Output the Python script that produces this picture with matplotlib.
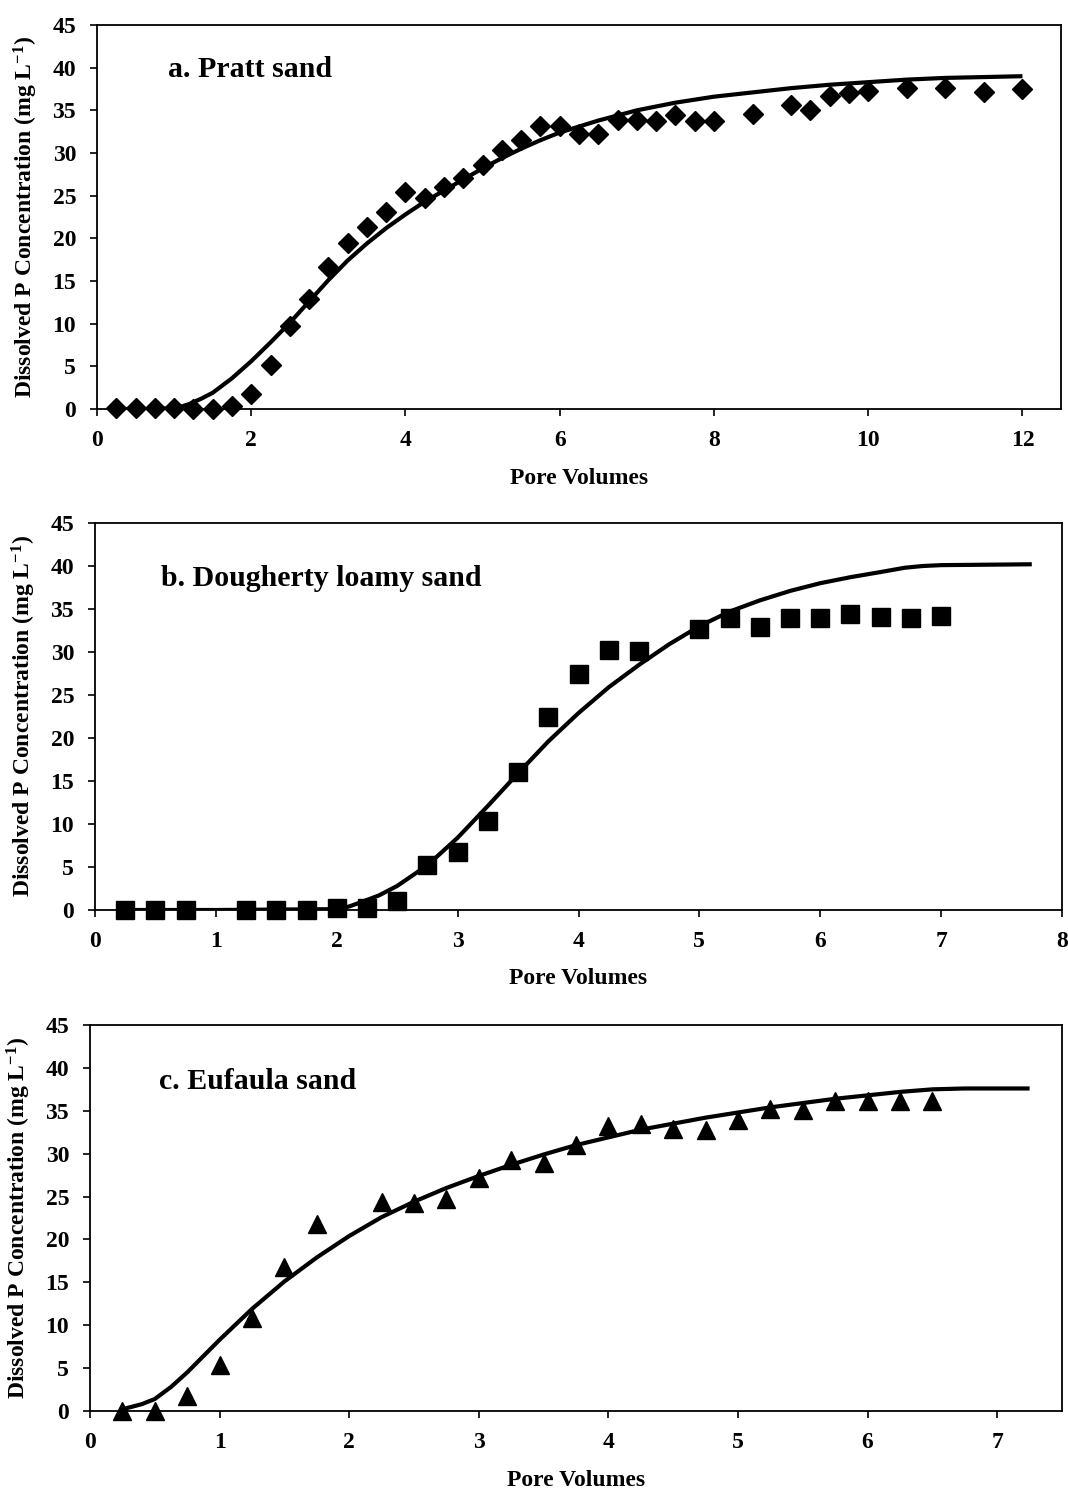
import matplotlib
matplotlib.use("Agg")
import matplotlib.pyplot as plt

plt.rcParams['font.family'] = ['Liberation Serif', 'DejaVu Serif']
plt.rcParams['font.weight'] = 'bold'
plt.rcParams['mathtext.fontset'] = 'custom'
plt.rcParams['mathtext.rm'] = 'Liberation Serif:bold'
plt.rcParams['mathtext.it'] = 'Liberation Serif:bold'
plt.rcParams['mathtext.bf'] = 'Liberation Serif:bold'

# ---- Panel a: Pratt sand ----
a_obs_x = [0.25, 0.5, 0.75, 1.0, 1.25, 1.5, 1.75, 2.0, 2.25, 2.5, 2.75, 3.0, 3.25, 3.5, 3.75,
           4.0, 4.25, 4.5, 4.75, 5.0, 5.25, 5.5, 5.75, 6.0, 6.25, 6.5, 6.75, 7.0, 7.25, 7.5,
           7.75, 8.0, 8.5, 9.0, 9.25, 9.5, 9.75, 10.0, 10.5, 11.0, 11.5, 12.0]
a_obs_y = [0.1, 0.1, 0.1, 0.1, 0.0, 0.0, 0.4, 1.8, 5.1, 9.7, 12.9, 16.6, 19.5, 21.3, 23.1,
           25.4, 24.7, 26.0, 27.1, 28.6, 30.4, 31.5, 33.2, 33.2, 32.2, 32.2, 33.9, 33.9, 33.8, 34.4,
           33.8, 33.7, 34.6, 35.6, 35.0, 36.7, 37.0, 37.3, 37.6, 37.6, 37.2, 37.5]
a_fit_x = [0.25, 0.75, 1.0, 1.1, 1.2, 1.35, 1.5, 1.75, 2.0, 2.25, 2.5, 2.75, 3.0, 3.25, 3.5,
           3.75, 4.0, 4.25, 4.5, 4.75, 5.0, 5.25, 5.5, 5.75, 6.0, 6.5, 7.0, 7.5, 8.0, 8.5, 9.0,
           9.5, 10.0, 10.5, 11.0, 11.5, 12.0]
a_fit_y = [0.0, 0.0, 0.1, 0.3, 0.6, 1.2, 1.9, 3.6, 5.6, 7.8, 10.1, 12.6, 15.1, 17.4, 19.4,
           21.2, 22.8, 24.3, 25.6, 26.9, 28.2, 29.4, 30.5, 31.5, 32.4, 33.8, 35.0, 35.9, 36.6,
           37.1, 37.6, 38.0, 38.3, 38.6, 38.8, 38.9, 39.0]

# ---- Panel b: Dougherty loamy sand ----
b_obs_x = [0.25, 0.5, 0.75, 1.25, 1.5, 1.75, 2.0, 2.25, 2.5, 2.75, 3.0, 3.25, 3.5, 3.75,
           4.0, 4.25, 4.5, 5.0, 5.25, 5.5, 5.75, 6.0, 6.25, 6.5, 6.75, 7.0]
b_obs_y = [0.0, 0.0, 0.0, 0.0, 0.0, 0.0, 0.2, 0.2, 1.0, 5.2, 6.7, 10.3, 16.1, 22.4,
           27.4, 30.2, 30.1, 32.7, 34.0, 32.9, 33.9, 34.0, 34.4, 34.1, 34.0, 34.2]
b_fit_x = [0.25, 1.0, 2.0, 2.1, 2.2, 2.35, 2.5, 2.75, 3.0, 3.25, 3.5, 3.75, 4.0, 4.25, 4.5,
           4.75, 5.0, 5.25, 5.5, 5.75, 6.0, 6.25, 6.5, 6.7, 6.85, 7.0, 7.75]
b_fit_y = [0.0, 0.0, 0.1, 0.4, 0.9, 1.7, 2.8, 5.2, 8.4, 12.1, 15.9, 19.6, 22.9, 25.9, 28.5,
           30.9, 33.0, 34.7, 36.0, 37.1, 38.0, 38.7, 39.3, 39.8, 40.0, 40.1, 40.2]

# ---- Panel c: Eufaula sand ----
c_obs_x = [0.25, 0.5, 0.75, 1.0, 1.25, 1.5, 1.75, 2.25, 2.5, 2.75, 3.0, 3.25, 3.5, 3.75,
           4.0, 4.25, 4.5, 4.75, 5.0, 5.25, 5.5, 5.75, 6.0, 6.25, 6.5]
c_obs_y = [0.0, 0.0, 1.7, 5.4, 10.8, 16.8, 21.8, 24.4, 24.3, 24.7, 27.2, 29.3, 28.9, 31.0,
           33.2, 33.5, 32.9, 32.8, 33.9, 35.2, 35.1, 36.1, 36.1, 36.1, 36.1]
c_fit_x = [0.25, 0.4, 0.5, 0.625, 0.75, 0.875, 1.0, 1.25, 1.5, 1.75, 2.0, 2.25, 2.5, 2.75,
           3.0, 3.25, 3.5, 3.75, 4.0, 4.25, 4.5, 4.75, 5.0, 5.25, 5.5, 5.75, 6.0, 6.25, 6.5,
           6.75, 7.0, 7.25]
c_fit_y = [0.2, 0.8, 1.4, 2.8, 4.5, 6.4, 8.3, 11.9, 15.1, 17.9, 20.4, 22.6, 24.4, 26.0,
           27.4, 28.7, 29.9, 31.0, 31.9, 32.8, 33.5, 34.2, 34.8, 35.4, 35.9, 36.4, 36.8, 37.2,
           37.5, 37.6, 37.6, 37.6]

panel_titles = ["a. Pratt sand", "b. Dougherty loamy sand", "c. Eufaula sand"]
x_ticks = [[0, 2, 4, 6, 8, 10, 12], [0, 1, 2, 3, 4, 5, 6, 7, 8], [0, 1, 2, 3, 4, 5, 6, 7]]
y_ticks = [0, 5, 10, 15, 20, 25, 30, 35, 40, 45]

fig = plt.figure(figsize=(10.68, 14.93), dpi=100)

specs = [
    (dict(rect=[97/1068, 1 - 409/1493, (1061 - 97)/1068, (409 - 25)/1493], xlim=(0, 12.5),
          marker='D', ms=10.5, tx=0.92, ty=39.8),
     a_obs_x, a_obs_y, a_fit_x, a_fit_y),
    (dict(rect=[95/1068, 1 - 910/1493, (1062 - 95)/1068, (910 - 523)/1493], xlim=(0, 8),
          marker='s', ms=13.5, tx=0.55, ty=38.6),
     b_obs_x, b_obs_y, b_fit_x, b_fit_y),
    (dict(rect=[90/1068, 1 - 1411/1493, (1062 - 90)/1068, (1411 - 1025)/1493], xlim=(0, 7.5),
          marker='^', ms=13.5, tx=0.53, ty=38.4),
     c_obs_x, c_obs_y, c_fit_x, c_fit_y),
]

for i, (sp, ox, oy, fx, fy) in enumerate(specs):
    ax = fig.add_axes(sp['rect'])
    ax.plot(fx, fy, color='black', lw=3.0, solid_capstyle='butt', solid_joinstyle='round',
            zorder=3)
    ax.plot(ox, oy, linestyle='none', marker=sp['marker'], ms=sp['ms'],
            color='black', markeredgecolor='black', zorder=4, clip_on=False)
    ax.set_xlim(*sp['xlim'])
    ax.set_ylim(0, 45)
    ax.set_xticks(x_ticks[i])
    ax.set_yticks(y_ticks)
    ax.tick_params(direction='out', length=5, width=1.2, labelsize=17, pad=10)
    for lab in ax.get_xticklabels() + ax.get_yticklabels():
        lab.set_fontweight('bold')
    for s in ax.spines.values():
        s.set_linewidth(1.3)
    ax.set_xlabel("Pore Volumes", fontsize=17, fontweight='bold', labelpad=12)
    ax.set_ylabel("Dissolved P Concentration (mg L$^{-1}$)", fontsize=17,
                  fontweight='bold', labelpad=9)
    ax.text(sp['tx'], sp['ty'], panel_titles[i], fontsize=21.5, fontweight='bold',
            ha='left', va='center')

fig.savefig("out.png", dpi=100, facecolor='white')
